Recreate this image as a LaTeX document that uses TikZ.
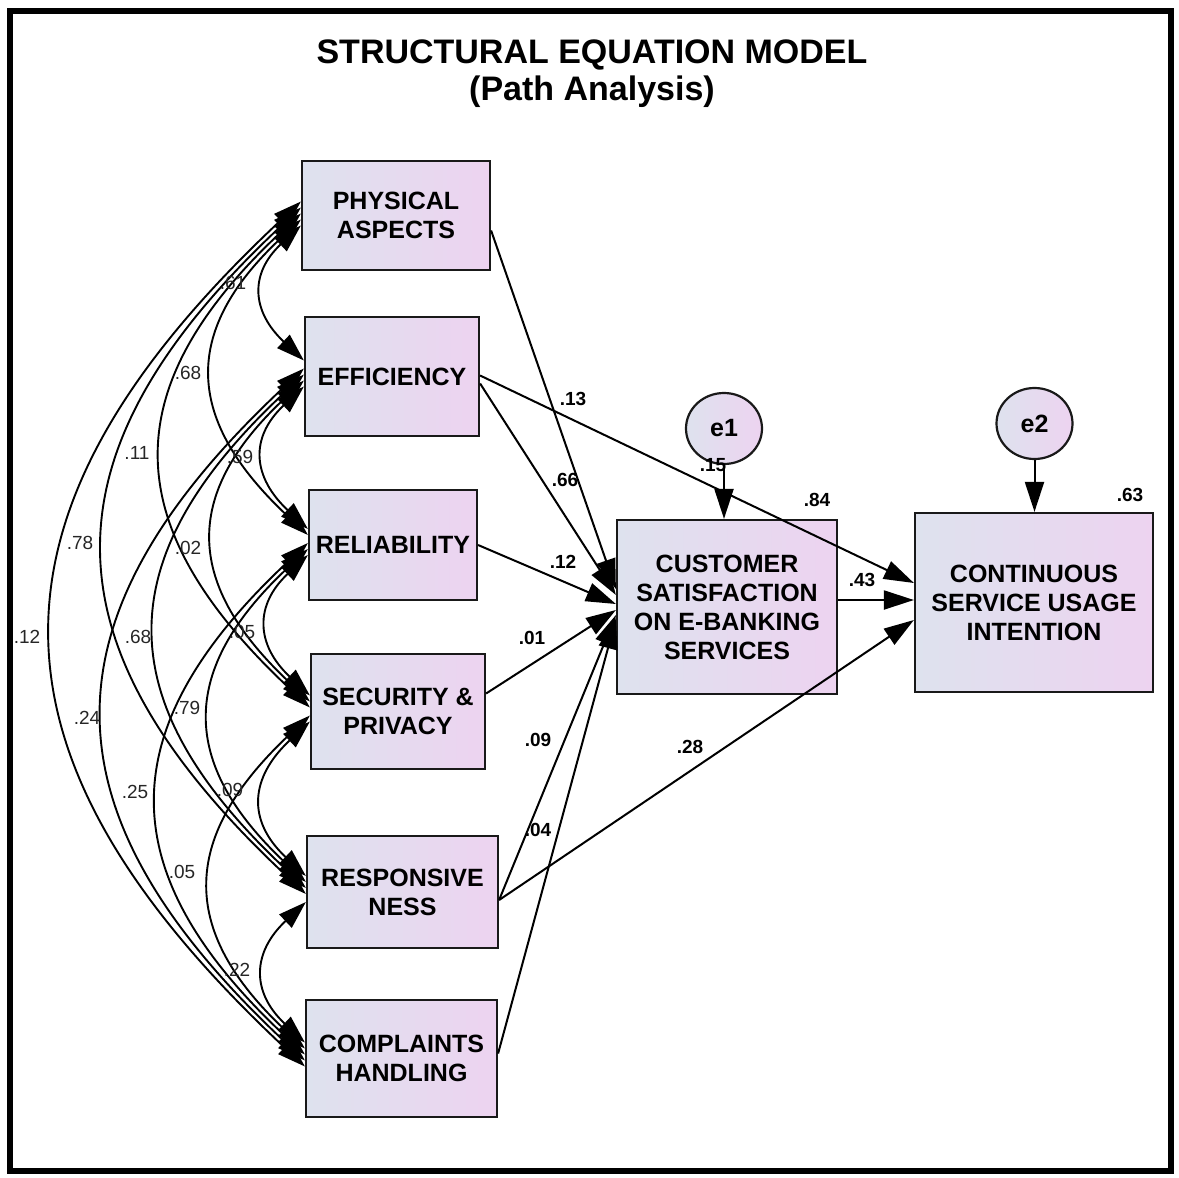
\documentclass[tikz,border=0pt]{standalone}
\usepackage{fontspec}
\setmainfont{Liberation Sans}
\usetikzlibrary{arrows.meta,shapes.geometric,calc}
\definecolor{boxL}{RGB}{222,226,238}
\definecolor{boxR}{RGB}{237,211,240}
\newcommand\covarc[5]{\draw[cov] ([yshift=#3pt]#1.west) .. controls +(-0.385*#5,0.36*#5) and +(-0.385*#5,-0.36*#5) .. ([yshift=#4pt]#2.west);}
\begin{document}
\begin{tikzpicture}[x=1pt,y=-1pt,
  box/.style={draw=black!90,line width=2.2pt,left color=boxL,right color=boxR,inner sep=0pt,align=center,font=\bfseries\fontsize{25}{29}\selectfont},
  err/.style={ellipse,draw=black!90,line width=2.2pt,left color=boxL,right color=boxR,inner sep=0pt,minimum width=76pt,minimum height=71pt,font=\bfseries\fontsize{25}{29}\selectfont},
  pth/.style={line width=2pt,-{Triangle[length=30pt,width=19pt]}},
  cov/.style={line width=1.9pt,{Triangle[length=28pt,width=18pt]}-{Triangle[length=28pt,width=18pt]}},
  cl/.style={font=\fontsize{19}{19}\selectfont,inner sep=0pt,text=black!85},
  pl/.style={font=\bfseries\fontsize{19}{19}\selectfont,inner sep=0pt},
  ttl/.style={font=\bfseries\fontsize{34}{37}\selectfont,inner sep=0pt,anchor=base}]
\useasboundingbox (0,0) rectangle (1179,1178);
\draw[line width=6pt] (10,11) rectangle (1171,1171);
\node[ttl] (t1) at (592,63) {STRUCTURAL EQUATION MODEL};
\node[ttl] (t2) at (592,100) {(Path Analysis)};
% boxes
\node[box,minimum width=188pt,minimum height=109pt] (pa) at (396,215.5) {PHYSICAL\\ASPECTS};
\node[box,minimum width=174pt,minimum height=119pt] (ef) at (392,376.5) {EFFICIENCY};
\node[box,minimum width=168pt,minimum height=110pt] (re) at (393,545) {RELIABILITY};
\node[box,minimum width=174pt,minimum height=115pt] (sp) at (398,711.5) {SECURITY \&\\PRIVACY};
\node[box,minimum width=191pt,minimum height=112pt] (rs) at (402.5,892) {RESPONSIVE\\NESS};
\node[box,minimum width=191pt,minimum height=117pt] (ch) at (401.5,1058.5) {COMPLAINTS\\HANDLING};
\node[box,minimum width=220pt,minimum height=174pt] (cs) at (727,607) {CUSTOMER\\SATISFACTION\\ON E-BANKING\\SERVICES};
\node[box,minimum width=238pt,minimum height=179pt] (ci) at (1034,602.5) {CONTINUOUS\\SERVICE USAGE\\INTENTION};
\node[err] (e1) at (724,428.5) {e1};
\node[err] (e2) at (1034.5,423.5) {e2};
% covariances
\covarc{pa}{ef}{-10}{16}{135}
\covarc{pa}{re}{-4}{10}{316}
\covarc{pa}{sp}{2}{4}{494}
\covarc{pa}{rs}{8}{-2}{687}
\covarc{pa}{ch}{14}{-8}{865}
\covarc{ef}{re}{-10}{16}{143}
\covarc{ef}{sp}{-4}{10}{321}
\covarc{ef}{rs}{2}{4}{514}
\covarc{ef}{ch}{8}{-2}{692}
\covarc{re}{sp}{-10}{16}{140}
\covarc{re}{rs}{-4}{10}{333}
\covarc{re}{ch}{2}{4}{511}
\covarc{sp}{rs}{-10}{16}{155}
\covarc{sp}{ch}{-4}{10}{333}
\covarc{rs}{ch}{-10}{16}{140}
% paths
\draw[pth] ([yshift=-15pt]pa.east) -- ([yshift=18pt]cs.west);
\draw[pth] ([yshift=-7pt]ef.east) -- ([yshift=12pt]cs.west);
\draw[pth] ([yshift=1pt]ef.east) -- ([yshift=19.5pt]ci.west);
\draw[pth] (re.east) -- ([yshift=3pt]cs.west);
\draw[pth] ([yshift=18pt]sp.east) -- ([yshift=-3pt]cs.west);
\draw[pth] ([yshift=-8pt]rs.east) -- ([yshift=-8pt]cs.west);
\draw[pth] ([yshift=5pt]ch.east) -- ([yshift=-12pt]cs.west);
\draw[pth] ([yshift=-8pt]rs.east) -- ([yshift=-17.5pt]ci.west);
\draw[pth] ([yshift=7pt]cs.east) -- ([yshift=2.5pt]ci.west);
\draw[pth] (e1.south) -- (e1.south |- cs.north);
\draw[pth] (e2.south) -- (e2.south |- ci.north);
% covariance labels
\node[cl] (c1) at (233,283) {.61};
\node[cl] (c2) at (188,373) {.68};
\node[cl] (c3) at (137,453) {.11};
\node[cl] (c4) at (240,457) {.59};
\node[cl] (c5) at (80,543) {.78};
\node[cl] (c6) at (188,548) {.02};
\node[cl] (c7) at (27,637) {.12};
\node[cl] (c8) at (138,637) {.68};
\node[cl] (c9) at (242,632) {.05};
\node[cl] (c10) at (87,718) {.24};
\node[cl] (c11) at (187,708) {.79};
\node[cl] (c12) at (135,792) {.25};
\node[cl] (c13) at (230,790) {.09};
\node[cl] (c14) at (182,872) {.05};
\node[cl] (c15) at (237,970) {.22};
% path labels
\node[pl] (p1) at (573,399) {.13};
\node[pl] (p2) at (565,480) {.66};
\node[pl] (p3) at (563,562) {.12};
\node[pl] (p4) at (532,638) {.01};
\node[pl] (p5) at (538,740) {.09};
\node[pl] (p6) at (538,830) {.04};
\node[pl] (p7) at (690,747) {.28};
\node[pl] (p8) at (862,580) {.43};
\node[pl] (p9) at (713,465) {.15};
\node[pl] (p10) at (817,500) {.84};
\node[pl] (p11) at (1130,495) {.63};
\end{tikzpicture}
\end{document}
